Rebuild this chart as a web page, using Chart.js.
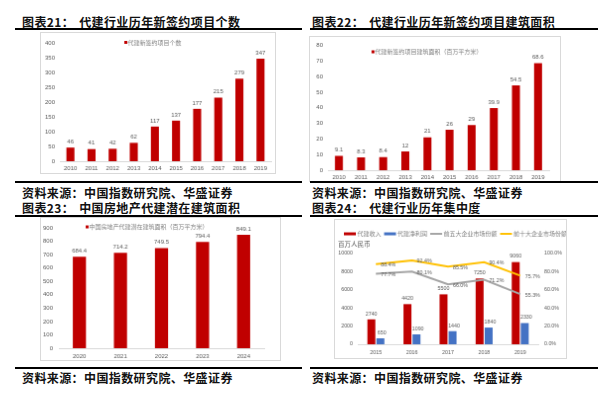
<!DOCTYPE html>
<html>
<head>
<meta charset="utf-8">
<script src="https://cdn.jsdelivr.net/npm/chart.js@4.4.1/dist/chart.umd.min.js"></script>
<style>
  body { margin: 0; background: #fff; width: 611px; height: 399px; position: relative; overflow: hidden;
         font-family: "Noto Sans CJK SC", sans-serif; }
  .t { position: absolute; font-size: 12px; font-weight: bold; color: #111; line-height: 14px;
       white-space: nowrap; letter-spacing: 0.4px; }
  .t span { margin-left: 5px; }
  .rule { position: absolute; height: 2px; background: #000; z-index: 5; }
  canvas { position: absolute; border: 1px solid #d9d9d9; background: #fff; }
</style>
</head>
<body>
<div class="t" style="left:22px;top:15px">图表21：<span>代建行业历年新签约项目个数</span></div>
<div class="rule" style="left:15px;top:28px;width:287px"></div>
<canvas id="c1" width="236" height="142" style="left:40px;top:32px"></canvas>
<div class="rule" style="left:15px;top:181px;width:287px"></div>
<div class="t" style="left:22px;top:186px">资料来源：中国指数研究院、华盛证券</div>

<div class="t" style="left:312px;top:15px">图表22：<span>代建行业历年新签约项目建筑面积</span></div>
<div class="rule" style="left:310px;top:28px;width:288px"></div>
<canvas id="c2" width="252" height="146" style="left:309px;top:36px"></canvas>
<div class="rule" style="left:310px;top:181px;width:288px"></div>
<div class="t" style="left:312px;top:186px">资料来源：中国指数研究院、华盛证券</div>

<div class="t" style="left:22px;top:201px">图表23：<span>中国房地产代建潜在建筑面积</span></div>
<div class="rule" style="left:15px;top:215px;width:287px"></div>
<canvas id="c3" width="241" height="144" style="left:40px;top:217px"></canvas>
<div class="rule" style="left:15px;top:367px;width:287px"></div>
<div class="t" style="left:22px;top:371px">资料来源：中国指数研究院、华盛证券</div>

<div class="t" style="left:312px;top:201px">图表24：<span>代建行业历年集中度</span></div>
<div class="rule" style="left:310px;top:215px;width:288px"></div>
<canvas id="c4" width="233" height="140" style="left:334px;top:219px"></canvas>
<div class="rule" style="left:310px;top:367px;width:288px"></div>
<div class="t" style="left:312px;top:371px">资料来源：中国指数研究院、华盛证券</div>

<script>
// chart 21
const years1 = ['2010', '2011', '2012', '2013', '2014', '2015', '2016', '2017', '2018', '2019'];
const projectCount = [46, 41, 42, 62, 117, 137, 177, 215, 279, 347];
// chart 22
const projectArea = [9.1, 8.3, 8.4, 12, 21, 26, 29, 39.9, 54.5, 68.6];
// chart 23
const years3 = ['2020', '2021', '2022', '2023', '2024'];
const potentialArea = [684.4, 714.2, 749.5, 794.4, 849.1];
// chart 24
const years4 = ['2015', '2016', '2017', '2018', '2019'];
const revenue = [2740, 4420, 5500, 7250, 9060];
const netProfit = [650, 1090, 1440, 1840, 2330];
const top5Share = [77.7, 80.1, 66.0, 71.2, 55.3];
const top10Share = [88.4, 92.4, 85.5, 90.4, 75.7];

const RED = '#C00000';
const BLUE = '#4472C4';
const GREY = '#A5A5A5';
const GOLD = '#FFC000';
const TXT = '#595959';

Chart.defaults.font.family = '"Liberation Sans", "Noto Sans CJK SC", sans-serif';
Chart.defaults.font.size = 6;
Chart.defaults.color = TXT;
Chart.defaults.animation = false;

// numbers above bars, percentages right of line points
const valueLabels = {
  id: 'valueLabels',
  afterDatasetsDraw(chart, args, opts) {
    const ctx = chart.ctx;
    ctx.save();
    ctx.font = (opts.size || 6) + 'px "Liberation Sans", sans-serif';
    ctx.fillStyle = TXT;
    chart.data.datasets.forEach((ds, i) => {
      const meta = chart.getDatasetMeta(i);
      const shift = ds.labelShift || 0;
      meta.data.forEach((el, j) => {
        const v = ds.data[j];
        if (meta.type === 'line') {
          ctx.textAlign = 'left';
          ctx.textBaseline = 'middle';
          ctx.fillText(v.toFixed(1) + '%', el.x + 5, el.y + 1);
        } else {
          ctx.textAlign = 'center';
          ctx.textBaseline = 'bottom';
          ctx.fillText(String(v), el.x + shift, el.y - 3);
        }
      });
    });
    ctx.restore();
  }
};

// small legend drawn at a fixed spot (Excel puts it inside the plot)
const legendAt = {
  id: 'legendAt',
  afterDraw(chart, args, opts) {
    const ctx = chart.ctx;
    ctx.save();
    ctx.font = '6px "Noto Sans CJK SC", sans-serif';
    ctx.textBaseline = 'middle';
    ctx.textAlign = 'left';
    let x = opts.x;
    const y = opts.y;
    chart.data.datasets.forEach(ds => {
      const isLine = ds.type === 'line';
      const color = isLine ? ds.borderColor : ds.backgroundColor;
      ctx.fillStyle = color;
      if (opts.lineMarker) {
        const h = isLine ? 2 : 3;
        ctx.fillRect(x, y - h / 2, 12, h);
        x += 13.5;
      } else {
        ctx.fillRect(x, y - 1.5, 3, 3);
        x += 3.5;
      }
      ctx.fillStyle = '#7f7f7f';
      ctx.fillText(ds.label, x, y);
      x += ctx.measureText(ds.label).width + 3;
    });
    if (opts.note) {
      ctx.fillStyle = TXT;
      ctx.font = '6.5px "Noto Sans CJK SC", sans-serif';
      ctx.fillText(opts.note.text, opts.note.x, opts.note.y);
    }
    ctx.restore();
  }
};

const noGrid = { display: false, drawTicks: false, tickLength: 0 };

function simpleBar(id, labels, label, data, yMax, step, lay) {
  return new Chart(document.getElementById(id), {
    type: 'bar',
    data: {
      labels: labels,
      datasets: [{ label: label, data: data, backgroundColor: RED,
                   categoryPercentage: 1, barPercentage: lay.bar }]
    },
    options: {
      responsive: false,
      layout: { padding: { top: lay.top, right: lay.right, left: 0, bottom: 0 } },
      plugins: {
        legend: { display: false },
        tooltip: { enabled: false },
        valueLabels: { size: 6 },
        legendAt: { x: lay.lx, y: lay.ly }
      },
      scales: {
        x: {
          grid: noGrid,
          border: { display: true, color: '#d9d9d9' },
          ticks: { padding: lay.xpad, maxRotation: 0, autoSkip: false },
          afterFit(scale) { scale.height = lay.xh; }
        },
        y: {
          min: 0, max: yMax,
          grid: noGrid,
          border: { display: false },
          ticks: { stepSize: step, padding: lay.ypad, callback: v => String(v) },
          afterFit(scale) { scale.width = lay.yw; }
        }
      }
    },
    plugins: [valueLabels, legendAt]
  });
}

simpleBar('c1', years1, '代建新签约项目个数', projectCount, 400, 50,
  { top: 10, right: 4, xh: 12, yw: 19, xpad: 4, ypad: 5, bar: 0.38, lx: 84, ly: 9.5 });

simpleBar('c2', years1, '代建新签约项目建筑面积（百万平方米）', projectArea, 80, 10,
  { top: 8, right: 11, xh: 11, yw: 18, xpad: 4, ypad: 5, bar: 0.36, lx: 62, ly: 15 });

simpleBar('c3', years3, '中国房地产代建潜在建筑面积（百万平方米）', potentialArea, 900, 100,
  { top: 10, right: 16, xh: 12, yw: 18, xpad: 5, ypad: 6, bar: 0.32, lx: 45, ly: 9 });

new Chart(document.getElementById('c4'), {
  type: 'bar',
  data: {
    labels: years4,
    datasets: [
      { label: '代建收入', data: revenue, backgroundColor: RED, yAxisID: 'y',
        categoryPercentage: 0.5, barPercentage: 0.88, order: 2 },
      { label: '代建净利润', data: netProfit, backgroundColor: BLUE, yAxisID: 'y',
        categoryPercentage: 0.5, barPercentage: 0.88, order: 2, labelShift: 1.5 },
      { type: 'line', label: '前五大企业市场份额', data: top5Share, borderColor: GREY,
        backgroundColor: GREY, borderWidth: 2, pointRadius: 0, yAxisID: 'y1', order: 1 },
      { type: 'line', label: '前十大企业市场份额', data: top10Share, borderColor: GOLD,
        backgroundColor: GOLD, borderWidth: 2, pointRadius: 0, yAxisID: 'y1', order: 0 }
    ]
  },
  options: {
    responsive: false,
    layout: { padding: { top: 34, right: 0, left: 0, bottom: 0 } },
    plugins: {
      legend: { display: false },
      tooltip: { enabled: false },
      valueLabels: { size: 5.3 },
      legendAt: { x: 9, y: 14, lineMarker: true, note: { text: '百万人民币', x: 3, y: 24.5 } }
    },
    scales: {
      x: {
        grid: noGrid,
        border: { display: true, color: '#d9d9d9' },
        ticks: { padding: 5, maxRotation: 0, font: { size: 5.3 } },
        afterFit(scale) { scale.height = 14; }
      },
      y: {
        position: 'left',
        min: 0, max: 10000,
        grid: noGrid,
        border: { display: false },
        ticks: { stepSize: 1000, padding: 5, font: { size: 5.3 }, callback: v => String(v) },
        afterFit(scale) { scale.width = 23; }
      },
      y1: {
        position: 'right',
        min: 0, max: 100,
        grid: noGrid,
        border: { display: false },
        ticks: { stepSize: 10, padding: 6, font: { size: 5.3 }, callback: v => v.toFixed(1) + '%' },
        afterFit(scale) { scale.width = 28; }
      }
    }
  },
  plugins: [valueLabels, legendAt]
});
</script>
</body>
</html>
